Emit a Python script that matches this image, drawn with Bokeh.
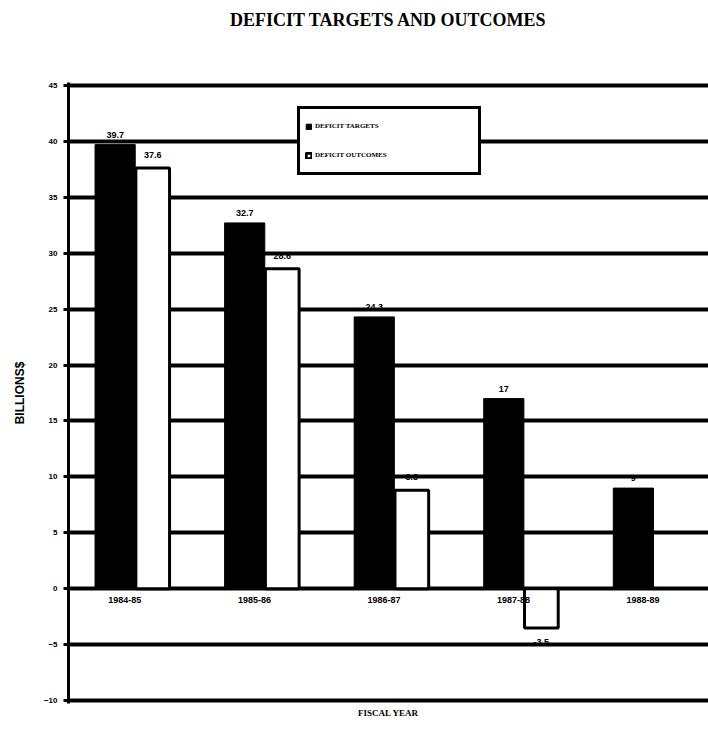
from bokeh.plotting import figure
from bokeh.models import ColumnDataSource, Range1d, FixedTicker, Legend, LegendItem, Title
from bokeh.core.properties import value
from bokeh.embed import file_html
from bokeh.resources import INLINE

# ---- data ----
categories = ["1984-85", "1985-86", "1986-87", "1987-88", "1988-89"]
targets = [39.7, 32.7, 24.3, 17, 9]
outcomes = [37.6, 28.6, 8.8, -3.5, None]
y_ticks = [-10, -5, 0, 5, 10, 15, 20, 25, 30, 35, 40, 45]

title_text = "DEFICIT TARGETS AND OUTCOMES"
y_title = "BILLIONS$"
x_title = "FISCAL YEAR"
series_names = ["DEFICIT TARGETS", "DEFICIT OUTCOMES"]

# ---- sources ----
idx = list(range(len(categories)))
tsrc = ColumnDataSource(dict(
    x=[i - 0.14 for i in idx],
    top=targets,
    label=[f"{v:g}" for v in targets],
    yo=[-10 for _ in targets],
))
o_idx = [i for i, v in enumerate(outcomes) if v is not None]
o_vals = [outcomes[i] for i in o_idx]
osrc = ColumnDataSource(dict(
    x=[i + 0.15 for i in o_idx],
    top=o_vals,
    label=[f"{v:g}" for v in o_vals],
    yo=[-13 if v >= 0 else 14 for v in o_vals],
))
csrc = ColumnDataSource(dict(
    x=[i - 0.065 for i in idx],
    y=[-1.0 for _ in idx],
    label=categories,
))

p = figure(width=708, height=732,
           x_range=Range1d(-0.5, 4.44), y_range=Range1d(-10.25, 45.25),
           output_backend="svg", toolbar_location=None,
           min_border_left=68, min_border_right=0,
           min_border_top=82, min_border_bottom=29)

p.outline_line_color = None
p.background_fill_color = "white"

# real title (outer) with an empty spacer title between it and the frame
p.title.text = title_text
p.title.align = "center"
p.title.offset = -7
p.title.standoff = 0
p.title.text_font = "Liberation Serif"
p.title.text_font_style = "bold"
p.title.text_font_size = "18px"
p.title.text_color = "black"
p.add_layout(Title(text=" ", text_font_size="10px", standoff=40), "above")

# grid
p.xgrid.visible = False
p.ygrid.ticker = FixedTicker(ticks=y_ticks)
p.ygrid.grid_line_color = "black"
p.ygrid.grid_line_width = 4
p.ygrid.grid_line_alpha = 1

# y axis
ya = p.yaxis[0]
ya.ticker = FixedTicker(ticks=y_ticks)
ya.axis_line_width = 3
ya.axis_line_color = "black"
ya.major_tick_out = 5
ya.major_tick_in = 0
ya.major_tick_line_width = 3
ya.minor_tick_line_color = None
ya.major_label_text_font = "Liberation Sans"
ya.major_label_text_font_style = "bold"
ya.major_label_text_font_size = "8px"
ya.major_label_text_color = "black"
ya.major_label_standoff = 6
ya.axis_label = y_title
ya.axis_label_text_font = "Liberation Sans"
ya.axis_label_text_font_style = "bold"
ya.axis_label_text_font_size = "12px"
ya.axis_label_text_color = "black"
ya.axis_label_standoff = 14

# x axis (label only)
xa = p.xaxis[0]
xa.ticker = FixedTicker(ticks=[])
xa.axis_line_color = None
xa.major_tick_line_color = None
xa.minor_tick_line_color = None
xa.axis_label = x_title
xa.axis_label_text_font = "Liberation Serif"
xa.axis_label_text_font_style = "bold"
xa.axis_label_text_font_size = "9px"
xa.axis_label_text_color = "black"
xa.axis_label_standoff = 4

# bars
tbar = p.vbar(x="x", top="top", bottom=0, width=0.31, source=tsrc,
              fill_color="black", line_color="black", line_width=1)
obar = p.vbar(x="x", top="top", bottom=0, width=0.26, source=osrc,
              fill_color="white", line_color="black", line_width=3)

# value labels
for src in (tsrc, osrc):
    p.text(x="x", y="top", text="label", source=src, y_offset="yo",
           text_align="center", text_baseline="middle",
           text_font=value("Liberation Sans"), text_font_style="bold",
           text_font_size="9px", text_color="black")

# category labels
p.text(x="x", y="y", text="label", source=csrc,
       text_align="center", text_baseline="middle",
       text_font=value("Liberation Sans"), text_font_style="bold",
       text_font_size="9px", text_color="black")

legend = Legend(items=[LegendItem(label=series_names[0], renderers=[tbar]),
                       LegendItem(label=series_names[1], renderers=[obar])],
                location=(229, 528))
legend.border_line_color = "black"
legend.border_line_alpha = 1
legend.border_line_width = 3
legend.background_fill_color = "white"
legend.background_fill_alpha = 1
legend.padding = 5
legend.spacing = 5
legend.margin = 0
legend.glyph_width = 7
legend.glyph_height = 7
legend.label_width = 158
legend.label_height = 24
legend.label_standoff = 3
legend.label_text_font = "Liberation Serif"
legend.label_text_font_style = "bold"
legend.label_text_font_size = "7px"
legend.label_text_color = "black"
p.add_layout(legend, "center")

open("out.html", "w").write(file_html(p, INLINE))
